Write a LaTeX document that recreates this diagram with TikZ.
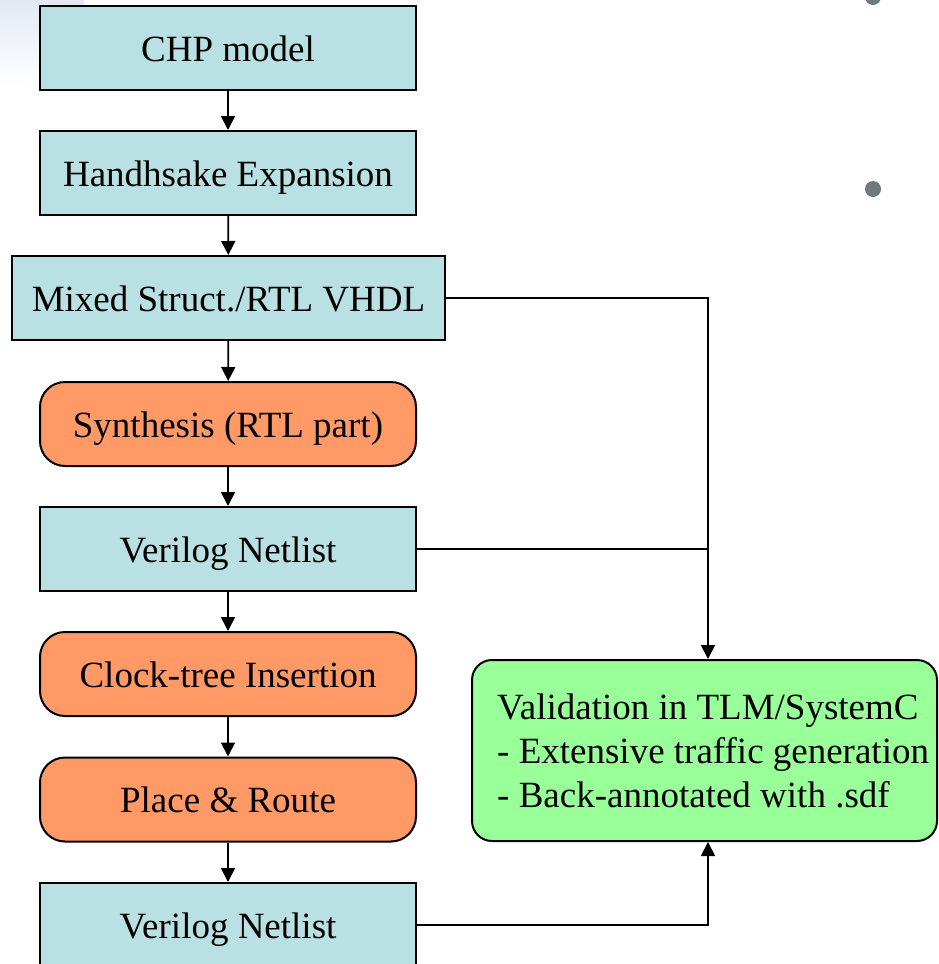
\documentclass[tikz,border=0pt]{standalone}
\usepackage{fontspec}
\setmainfont{Liberation Serif}
\usetikzlibrary{arrows.meta}
\definecolor{fileblue}{RGB}{185,224,227}
\definecolor{toolorange}{RGB}{255,153,102}
\definecolor{checkgreen}{RGB}{153,255,153}
\definecolor{bulletgray}{RGB}{110,122,124}
\definecolor{fadeblue}{RGB}{226,233,244}

\begin{document}
\begin{tikzpicture}[x=1pt,y=-1pt,
  every node/.style={font=\fontsize{37}{44}\selectfont, text=black},
  filebox/.style={draw=black, line width=2pt, fill=fileblue, minimum height=84pt,
    minimum width=376pt, inner sep=0pt, text height=26pt, text depth=0pt},
  toolbox/.style={draw=black, line width=2pt, fill=toolorange, rounded corners=25pt,
    minimum height=84pt, minimum width=376pt, inner sep=0pt, text height=26pt, text depth=0pt},
  checkbox/.style={draw=black, line width=2pt, fill=checkgreen, rounded corners=20pt,
    minimum width=465pt, minimum height=181pt, inner sep=0pt},
  flow/.style={line width=1.8pt, -{Triangle[length=14pt,width=14pt]}},
  link/.style={line width=1.8pt}]

\useasboundingbox (0,0) rectangle (938,964);

% faint slide background in the corner
\shade[top color=fadeblue, bottom color=white] (0,0) rectangle (84,86);

% slide bullets on the right
\fill[bulletgray] (873,-3) circle (8pt);
\fill[bulletgray] (873,189) circle (8pt);

% design flow
\node[filebox] (chp) at (228,48) {CHP model};
\node[filebox] (hs) at (228,173) {Handhsake Expansion};
\node[filebox, minimum width=433pt] (mixed) at (228.5,298) {Mixed Struct./RTL VHDL};
\node[toolbox] (syn) at (228,424) {Synthesis (RTL part)};
\node[filebox] (vn1) at (228,549) {Verilog Netlist};
\node[toolbox] (cts) at (228,674) {Clock-tree Insertion};
\node[toolbox] (pr) at (228,799.5) {Place \& Route};
\node[filebox] (vn2) at (228,925) {Verilog Netlist};

% validation
\node[checkbox] (val) at (704.5,750.5) {};
\node[anchor=west, align=left, inner sep=0pt] (valtext) at ([xshift=26pt]val.west)
  {Validation in TLM/SystemC\\- Extensive traffic generation\\- Back-annotated with .sdf};

\coordinate (drop) at ([xshift=3.5pt]val.north);

\draw[flow] (chp) -- (hs);
\draw[flow] (hs) -- (mixed);
\draw[flow] (mixed) -- (syn);
\draw[flow] (syn) -- (vn1);
\draw[flow] (vn1) -- (cts);
\draw[flow] (cts) -- (pr);
\draw[flow] (pr) -- (vn2);

\draw[flow] (mixed.east) -| (drop);
\draw[link] (vn1.east) -- (vn1.east -| drop);
\draw[flow] (vn2.east) -| (val.south -| drop);
\end{tikzpicture}
\end{document}
